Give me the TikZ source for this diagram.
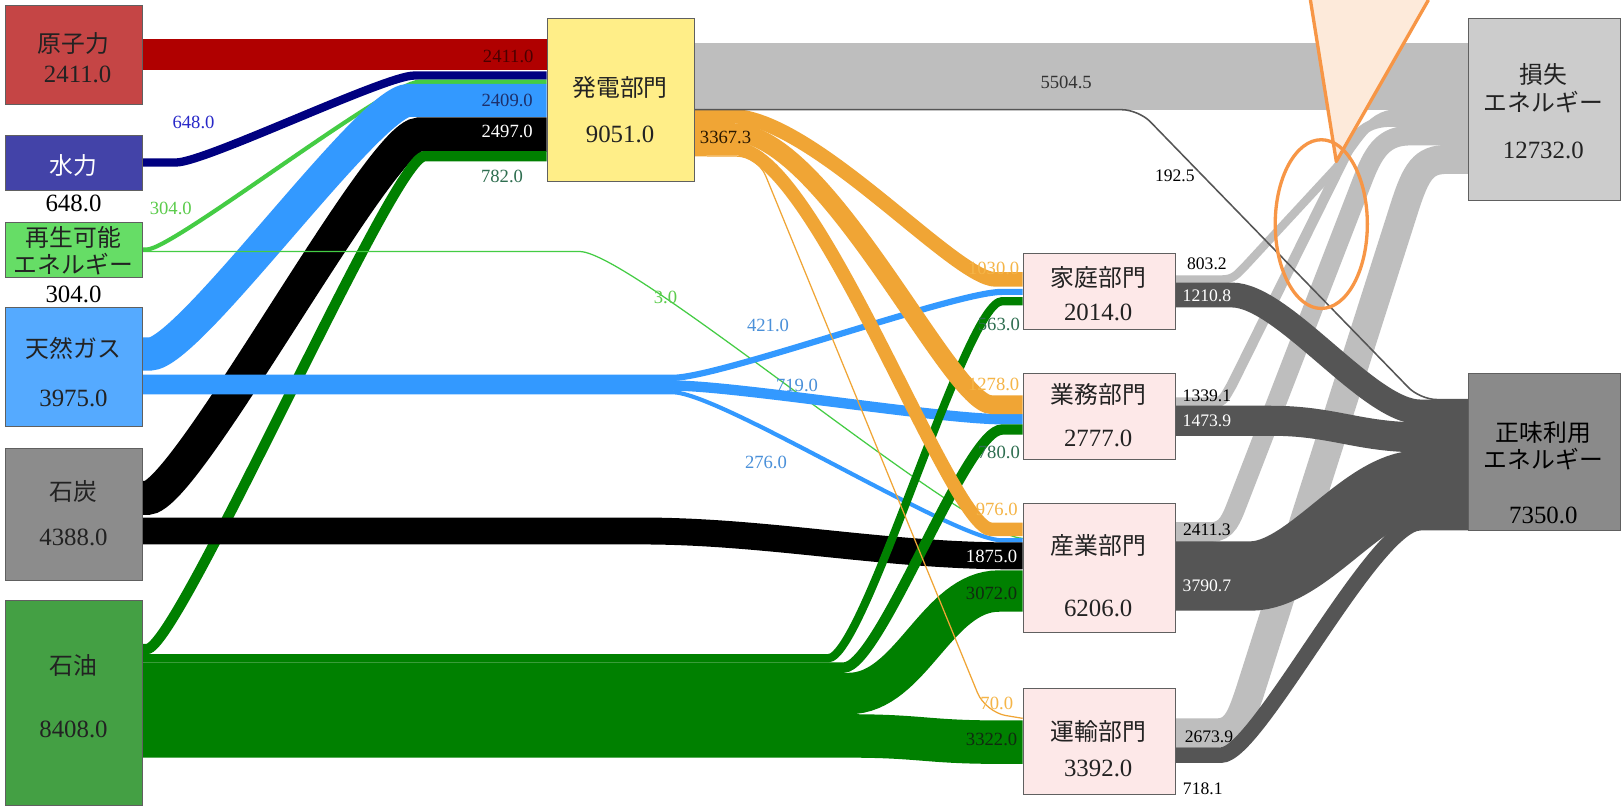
\documentclass[tikz,border=0pt]{standalone}
\usepackage{fontspec}
\setmainfont{Liberation Serif}
\newfontfamily\jp{Noto Sans CJK JP}
\usetikzlibrary{shapes.geometric}
\pgfdeclarelayer{bg}
\pgfsetlayers{bg,main}
\definecolor{nucB}{HTML}{C54545}
\definecolor{nucF}{HTML}{B00000}
\definecolor{hydB}{HTML}{4343A8}
\definecolor{hydF}{HTML}{000080}
\definecolor{renB}{HTML}{66DD66}
\definecolor{renF}{HTML}{44CC44}
\definecolor{gasB}{HTML}{55AAFF}
\definecolor{gasF}{HTML}{3399FF}
\definecolor{coalB}{HTML}{8C8C8C}
\definecolor{oilB}{HTML}{44A044}
\definecolor{oilF}{HTML}{008000}
\definecolor{powB}{HTML}{FFEE88}
\definecolor{elecF}{HTML}{F0A535}
\definecolor{secB}{HTML}{FDE8E8}
\definecolor{lossB}{HTML}{CCCCCC}
\definecolor{netB}{HTML}{8A8A8A}
\definecolor{lossF}{HTML}{BEBEBE}
\definecolor{netF}{HTML}{555555}
\definecolor{callFill}{HTML}{FDEADA}
\definecolor{callLine}{HTML}{F79646}
\definecolor{boxLine}{HTML}{606060}
\definecolor{txtD}{HTML}{222222}
\definecolor{lblRed}{HTML}{4A0000}
\definecolor{lblHyd}{HTML}{2828C8}
\definecolor{lblRen}{HTML}{5CCC4C}
\definecolor{lblGas}{HTML}{4A90D9}
\definecolor{lblNavy}{HTML}{1D2F6A}
\definecolor{lblOilD}{HTML}{2E6E50}
\definecolor{lblOrg}{HTML}{F5B548}
\definecolor{lblDark}{HTML}{2A1800}
\definecolor{lblOilK}{HTML}{102A10}
\tikzset{
  box/.style={draw=boxLine, line width=0.5pt, inner sep=0pt, anchor=north west},
  fl/.style={line width=#1*0.5pt},
  jpt/.style={font=\jp\fontsize{11.5}{13}\selectfont, inner sep=0pt},
  bnum/.style={font=\fontsize{12}{14}\selectfont, inner sep=0pt},
  fnum/.style={font=\fontsize{9}{10}\selectfont, inner sep=0pt},
  rnum/.style={font=\fontsize{8.5}{10}\selectfont, inner sep=0pt}
}
\begin{document}
\begin{tikzpicture}[x=0.5pt,y=-0.5pt]
\useasboundingbox (0,0) rectangle (1568,780);
% ---------- boxes ----------
\node[box, fill=nucB, minimum width=66pt, minimum height=47.5pt] (nuc) at (5,5) {};
\node[box, fill=hydB, minimum width=66pt, minimum height=27pt] (hyd) at (5,130) {};
\node[box, fill=renB, minimum width=66pt, minimum height=27pt] (ren) at (5,214) {};
\node[box, fill=gasB, minimum width=66pt, minimum height=57.5pt] (gas) at (5,297) {};
\node[box, fill=coalB, minimum width=66pt, minimum height=63.5pt] (coal) at (5,433) {};
\node[box, fill=oilB, minimum width=66pt, minimum height=99pt] (oil) at (5,580) {};
\node[box, fill=powB, minimum width=71pt, minimum height=79pt] (pow) at (528,17) {};
\node[box, fill=secB, minimum width=73.5pt, minimum height=37pt] (home) at (988,244) {};
\node[box, fill=secB, minimum width=73.5pt, minimum height=41.5pt] (biz) at (988,360) {};
\node[box, fill=secB, minimum width=73.5pt, minimum height=62.5pt] (ind) at (988,486) {};
\node[box, fill=secB, minimum width=73.5pt, minimum height=51pt] (tra) at (988,665) {};
\node[box, fill=lossB, minimum width=73.5pt, minimum height=88pt] (loss) at (1418,17) {};
\node[box, fill=netB, minimum width=73.5pt, minimum height=76pt] (net) at (1418,360) {};
% ---------- flows ----------
\begin{pgfonlayer}{bg}
\fill[white] (0,0) rectangle (1568,780);
% into power station
\draw[fl=30, nucF] (nuc.east |- 0,53) -- (pow.west |- 0,53);
\draw[fl=8, hydF] (hyd.east |- 0,157) -- (170,157) .. controls +(28,0) and +(-28,0) .. (400,73) -- (pow.west |- 0,73);
\draw[fl=4, renF] (ren.east |- 0,241) -- (142,241) .. controls +(25,0) and +(-30,0) .. (405,79) -- (pow.west |- 0,79);
\draw[fl=32, gasF] (gas.east |- 0,342) -- (145,342) .. controls +(38,0) and +(-38,0) .. (395,97) -- (pow.west |- 0,97);
\draw[fl=33, black] (coal.east |- 0,481) -- (142,481) .. controls +(38,0) and +(-38,0) .. (405,130) -- (pow.west |- 0,130);
\draw[fl=10, oilF] (oil.east |- 0,627) -- (142,627) .. controls +(30,0) and +(-30,0) .. (410,151) -- (pow.west |- 0,151);
% renewable direct
\draw[fl=1.2, renF] (ren.east |- 0,243) -- (560,243) .. controls (610,243) and (935,520) .. (ind.west |- 0,520);
% gas direct
\draw[fl=6, gasF] (gas.east |- 0,365) -- (650,365) .. controls +(45,0) and +(-45,0) .. (968,282) -- (home.west |- 0,282);
\draw[fl=10, gasF] (gas.east |- 0,372.5) -- (650,372.5) .. controls +(60,0) and +(-60,0) .. (968,405) -- (biz.west |- 0,405);
\draw[fl=4, gasF] (gas.east |- 0,379) -- (650,379) .. controls +(45,0) and +(-45,0) .. (968,522) -- (ind.west |- 0,522);
% coal direct
\draw[fl=26, black] (coal.east |- 0,513) -- (620,513) .. controls +(120,0) and +(-120,0) .. (975,537) -- (ind.west |- 0,537);
% oil direct
\draw[fl=8, oilF] (oil.east |- 0,636) -- (800,636) .. controls +(35,0) and +(-35,0) .. (968,291) -- (home.west |- 0,291);
\draw[fl=10, oilF] (oil.east |- 0,645) -- (815,645) .. controls +(35,0) and +(-35,0) .. (968,415) -- (biz.west |- 0,415);
\draw[fl=40, oilF] (oil.east |- 0,670) -- (820,670) .. controls +(60,0) and +(-60,0) .. (965,571) -- (ind.west |- 0,571);
\draw[fl=42, oilF] (oil.east |- 0,711) -- (820,711) .. controls +(70,0) and +(-70,0) .. (965,717) -- (tra.west |- 0,717);
% electricity
\draw[fl=14, elecF] (pow.east |- 0,112) -- (705,112) .. controls +(80,0) and +(-40,0) .. (962,270) -- (home.west |- 0,270);
\draw[fl=18, elecF] (pow.east |- 0,128) -- (708,128) .. controls +(90,0) and +(-40,0) .. (958,391) -- (biz.west |- 0,391);
\draw[fl=13, elecF] (pow.east |- 0,143.5) -- (710,143.5) .. controls +(78,0) and +(-40,0) .. (958,511.5) -- (ind.west |- 0,511.5);
\draw[fl=1.2, elecF, rounded corners=10pt] (pow.east |- 0,150.5) -- (732,151) -- (952,688) -- (tra.west |- 0,694);
% losses
\draw[fl=64, lossF] (pow.east |- 0,74) -- (loss.west |- 0,74);
\draw[fl=8, lossF] (home.east |- 0,270) -- (1180,270) .. controls (1192,270) and (1195,265) .. (1203,257) -- (1290,163) .. controls (1310,140) and (1322,109.5) .. (1350,109.5) -- (loss.west |- 0,109.5);
\draw[fl=10, lossF] (biz.east |- 0,389) -- (1172,389) .. controls (1182,389) and (1184,382) .. (1190,372) -- (1300,150) .. controls (1310,128) and (1320,117.5) .. (1345,117.5) -- (loss.west |- 0,117.5);
\draw[fl=19, lossF] (ind.east |- 0,514) -- (1170,514) .. controls (1186,514) and (1190,500) .. (1196,485) -- (1318,170) .. controls (1328,145) and (1338,131) .. (1362,131) -- (loss.west |- 0,131);
\draw[fl=28, lossF] (tra.east |- 0,708) -- (1176,708) .. controls (1195,708) and (1200,690) .. (1207,670) -- (1357,200) .. controls (1368,166) and (1375,154) .. (1398,154) -- (loss.west |- 0,154);
% net use
\draw[fl=1.5, netF, rounded corners=8pt] (pow.east |- 0,106) -- (1100,106) -- (1372,386) -- (net.west |- 0,386);
\draw[fl=24, netF] (home.east |- 0,285) -- (1190,285) .. controls +(50,0) and +(-50,0) .. (1372,398) -- (net.west |- 0,398);
\draw[fl=29, netF] (biz.east |- 0,406.5) -- (1228,406.5) .. controls +(60,0) and +(-60,0) .. (1372,422.5) -- (net.west |- 0,422.5);
\draw[fl=67, netF] (ind.east |- 0,556.5) -- (1208,556.5) .. controls +(55,0) and +(-55,0) .. (1372,468.5) -- (net.west |- 0,468.5);
\draw[fl=15, netF] (tra.east |- 0,729.5) -- (1180,729.5) .. controls +(35,0) and +(-45,0) .. (1372,505) -- (net.west |- 0,505);
\end{pgfonlayer}
% ---------- box texts ----------
\node[jpt, text=txtD] (nucA) at (71,42) {原子力};
\node[bnum, text=txtD] (nucB) at (75,72) {2411.0};
\node[jpt, text=white] (hydA) at (71,160) {水力};
\node[bnum, text=black] (hydB) at (71,197) {648.0};
\node[jpt, text=txtD] (renA) at (71,229) {再生可能};
\node[jpt, text=txtD] (renC) at (71,255) {エネルギー};
\node[bnum, text=black] (renB) at (71,284) {304.0};
\node[jpt, text=txtD] (gasA) at (71,337) {天然ガス};
\node[bnum, text=txtD] (gasB) at (71,385) {3975.0};
\node[jpt, text=txtD] (coalA) at (71,475) {石炭};
\node[bnum, text=txtD] (coalB) at (71,519) {4388.0};
\node[jpt, text=txtD] (oilA) at (71,643) {石油};
\node[bnum, text=txtD] (oilB) at (71,705) {8408.0};
\node[jpt, text=txtD] (powA) at (599,85) {発電部門};
\node[bnum, text=txtD] (powB) at (599,130) {9051.0};
\node[jpt, text=txtD] (homeA) at (1061,268) {家庭部門};
\node[bnum, text=txtD] (homeB) at (1061,302) {2014.0};
\node[jpt, text=txtD] (bizA) at (1061,381) {業務部門};
\node[bnum, text=txtD] (bizB) at (1061,424) {2777.0};
\node[jpt, text=txtD] (indA) at (1061,527) {産業部門};
\node[bnum, text=txtD] (indB) at (1061,588) {6206.0};
\node[jpt, text=txtD] (traA) at (1061,707) {運輸部門};
\node[bnum, text=txtD] (traB) at (1061,742) {3392.0};
\node[jpt, text=txtD] (lossA) at (1491,72) {損失};
\node[jpt, text=txtD] (lossC) at (1491,99) {エネルギー};
\node[bnum, text=txtD] (lossB) at (1491,145) {12732.0};
\node[jpt, text=black] (netA) at (1491,418) {正味利用};
\node[jpt, text=black] (netC) at (1491,444) {エネルギー};
\node[bnum, text=black] (netB) at (1491,498) {7350.0};
% ---------- flow labels ----------
\node[fnum, text=lblRed] (f1) at (491,55) {2411.0};
\node[fnum, text=lblHyd] (f2) at (187,118) {648.0};
\node[fnum, text=lblRen] (f3) at (165,201) {304.0};
\node[fnum, text=lblNavy] (f4) at (490,97) {2409.0};
\node[fnum, text=white] (f5) at (490,127) {2497.0};
\node[fnum, text=lblOilD] (f6) at (485,170) {782.0};
\node[fnum, text=lblRen] (f7) at (643,287) {3.0};
\node[fnum, text=lblGas] (f8) at (742,314) {421.0};
\node[fnum, text=lblGas] (f9) at (770,372) {719.0};
\node[fnum, text=lblGas] (f10) at (740,447) {276.0};
\node[fnum, text=lblDark] (f11) at (701,133) {3367.3};
\node[fnum, text=black!80] (f12) at (1030,80) {5504.5};
\node[rnum, text=black] (f13) at (1135,170) {192.5};
\node[fnum, text=lblOrg] (f14) at (960,259) {1030.0};
\node[fnum, text=lblOrg] (f15) at (960,371) {1278.0};
\node[fnum, text=lblOrg] (f16) at (963,492) {976.0};
\node[fnum, text=lblOrg] (f17) at (963,680) {70.0};
\node[fnum, text=lblOilD] (f18) at (965,313) {563.0};
\node[fnum, text=lblOilD] (f19) at (965,437) {780.0};
\node[fnum, text=white] (f20) at (958,538) {1875.0};
\node[fnum, text=lblOilK] (f21) at (958,573) {3072.0};
\node[fnum, text=lblOilK] (f22) at (958,714) {3322.0};
\node[rnum, text=black] (r1) at (1166,255) {803.2};
\node[rnum, text=white] (r2) at (1166,286) {1210.8};
\node[rnum, text=black] (r3) at (1166,382) {1339.1};
\node[rnum, text=white] (r4) at (1166,407) {1473.9};
\node[rnum, text=black] (r5) at (1166,512) {2411.3};
\node[rnum, text=white] (r6) at (1166,566) {3790.7};
\node[rnum, text=black] (r7) at (1168,712) {2673.9};
\node[rnum, text=black] (r8) at (1162,762) {718.1};
% ---------- callout ----------
\fill[callFill] (1266,0) -- (1291,156) -- (1380,0) -- cycle;
\draw[callLine, line width=1.6pt, line join=round] (1266,0) -- (1291,156) -- (1380,0);
\node[draw=callLine, line width=1.6pt, ellipse, minimum width=44.5pt, minimum height=81.5pt, inner sep=0pt] (focus) at (1276.5,216.5) {};
\end{tikzpicture}
\end{document}
